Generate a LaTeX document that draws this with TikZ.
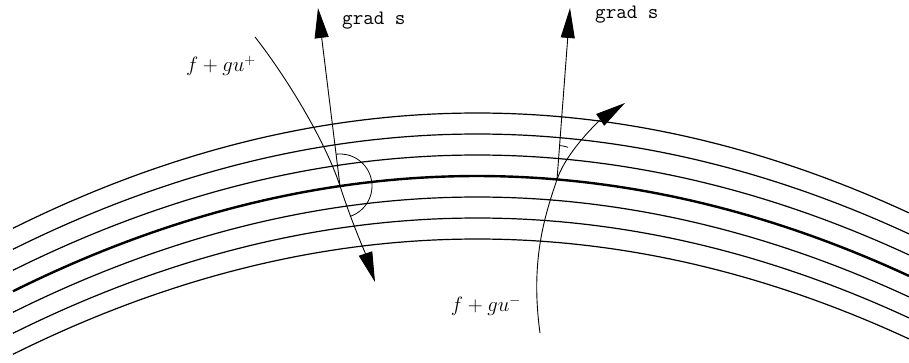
\documentclass[tikz,border=0pt]{standalone}
\usepackage{fontspec}
\usetikzlibrary{arrows.meta}
\begin{document}
\begin{tikzpicture}[x=1pt, y=-1pt,
  level/.style={line width=1.2pt},
  mainlevel/.style={line width=2.4pt},
  ray/.style={line width=0.9pt, -{Triangle[length=30pt, width=14pt]}},
  angmark/.style={line width=0.8pt},
  gradlabel/.style={font=\ttfamily\fontsize{20.5}{20.5}\selectfont, anchor=base west, inner sep=0pt},
  flowlabel/.style={font=\fontsize{21}{21}\selectfont, inner sep=0pt}]
  \useasboundingbox (0,0) rectangle (909,362);
  \foreach \k in {0,1,2,4,5,6}
    \draw[level] plot[domain=13:909, samples=80] (\x, {113+21*\k+((\x-477)/43.22)^2});
  \draw[mainlevel] plot[domain=13:909, samples=80] (\x, {176+((\x-477)/43.22)^2});
  \coordinate (pl) at (340,186);
  \coordinate (tl) at (318,8);
  \coordinate (pr) at (557,179.5);
  \coordinate (tr) at (570,8);
  \coordinate (sl) at (255,37);
  \coordinate (el) at (375,282);
  \coordinate (sr) at (540,333);
  \coordinate (er) at (625,103);
  \draw[ray] (pl) -- (tl);
  \draw[ray] (pr) -- (tr);
  \draw[ray] (sl) .. controls (285,75) and (325,140) .. (pl) .. controls (352,223) and (366,255) .. (el);
  \draw[ray] (sr) .. controls (530,260) and (545,215) .. (pr) .. controls (566.6,151) and (600,120) .. (er);
  \draw[angmark, shift={(pl)}] plot[domain=97:-72, samples=40] ({32*cos(\x)}, {-32*sin(\x)});
  \draw[angmark, shift={(pr)}] plot[domain=86:71, samples=10] ({34*cos(\x)}, {-34*sin(\x)});
  \node[gradlabel] (gl) at (342,24) {grad s};
  \node[gradlabel] (gr) at (595,18) {grad s};
  \node[flowlabel] (fp) at (221,66) {$f+gu^{+}$};
  \node[flowlabel] (fm) at (486,306) {$f+gu^{-}$};
\end{tikzpicture}
\end{document}
